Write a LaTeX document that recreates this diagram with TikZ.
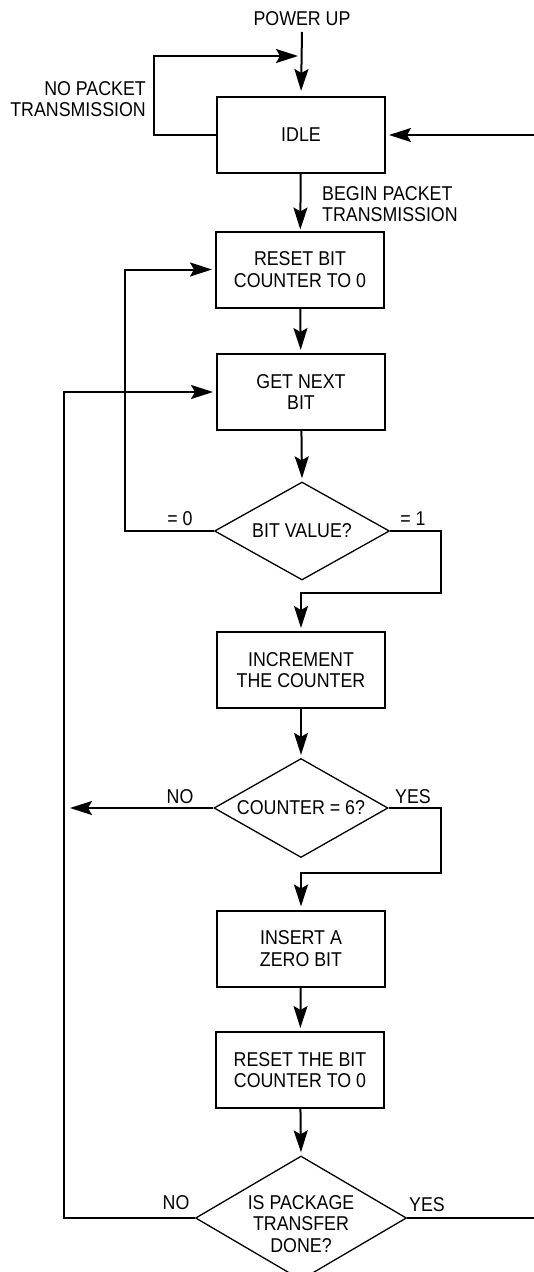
\documentclass[tikz,border=0pt]{standalone}
\usepackage{fontspec}
\setmainfont{Liberation Sans}[FakeStretch=0.89]
\usetikzlibrary{arrows.meta,shapes.geometric}
\begin{document}
\begin{tikzpicture}[x=1pt,y=-1pt,
  font=\fontsize{20}{21.5}\selectfont,
  box/.style={draw, line width=2pt, minimum width=168pt, minimum height=76pt, inner sep=0pt, align=center},
  dia/.style={draw, diamond, line width=1.3pt, inner sep=0pt},
  arr/.style={line width=2pt, -{Stealth[length=22pt 0,width=14pt 0,inset=4pt 0]}, shorten >=3pt},
  ln/.style={line width=2pt},
  lbl/.style={inner sep=0pt, align=center}]
\useasboundingbox (0,0) rectangle (534,1272);

% nodes
\node[lbl] (pu) at (302,19) {POWER UP};
\node[box] (idle) at (301,135) {IDLE};
\node[box] (reset) at (300,269.5) {RESET BIT\\COUNTER TO 0};
\node[box] (get) at (301,392) {GET NEXT\\BIT};
\node[dia, minimum width=175pt, minimum height=98pt, label={[lbl]center:BIT VALUE?}] (bv) at (302,531) {};
\node[box] (incr) at (301,670) {INCREMENT\\THE COUNTER};
\node[dia, minimum width=174pt, minimum height=99pt, label={[lbl]center:COUNTER = 6?}] (cnt) at (301,808) {};
\node[box] (ins) at (301,948.5) {INSERT A\\ZERO BIT};
\node[box] (reset2) at (300,1070) {RESET THE BIT\\COUNTER TO 0};
\node[dia, minimum width=211pt, minimum height=124pt] (done) at (301,1218) {};
\node[lbl] (donetxt) at (301,1224) {IS PACKAGE\\TRANSFER\\DONE?};

% labels
\node[lbl, anchor=east, align=right] (nopk) at (146,99) {NO PACKET\\TRANSMISSION};
\node[lbl, anchor=west, align=left] (begin) at (322,204) {BEGIN PACKET\\TRANSMISSION};
\node[lbl] (l0) at (180,519) {= 0};
\node[lbl] (l1) at (413,519) {= 1};
\node[lbl] (no1) at (180,797) {NO};
\node[lbl] (yes1) at (413,797) {YES};
\node[lbl] (no2) at (176,1203) {NO};
\node[lbl] (yes2) at (427,1205) {YES};

% coordinates
\coordinate (pustart) at (302,32);
\coordinate (join) at (302,56);
\coordinate (nol) at (154,135);
\coordinate (rin) at (534,135);
\coordinate (zl) at (125,531);
\coordinate (c1) at (441,593);
\coordinate (c2) at (441,873);
\coordinate (outer) at (64,808);
\coordinate (outb) at (64,1218);
\coordinate (rout) at (534,1218);

% connectors
\draw[arr, shorten >=5pt] (pustart) -- (idle.north);
\draw[arr, shorten >=4pt] (idle.west) -- (nol) |- (join);
\draw[arr] (rin) -- (idle.east);
\draw[arr, shorten >=1pt] (idle) -- (reset);
\draw[arr] (reset) -- (get);
\draw[arr] (get) -- (bv.north);
\draw[arr] (bv.west) -- (zl) |- (reset.west);
\draw[arr] (bv.east) -| (c1) -| (incr.north);
\draw[arr] (incr) -- (cnt.north);
\draw[arr, shorten >=6pt] (cnt.west) -- (outer);
\draw[arr] (cnt.east) -| (c2) -| (ins.north);
\draw[arr] (ins) -- (reset2);
\draw[arr] (reset2) -- (done.north);
\draw[arr] (done.west) -- (outb) |- (get.west);
\draw[ln] (done.east) -- (rout);
\end{tikzpicture}
\end{document}
